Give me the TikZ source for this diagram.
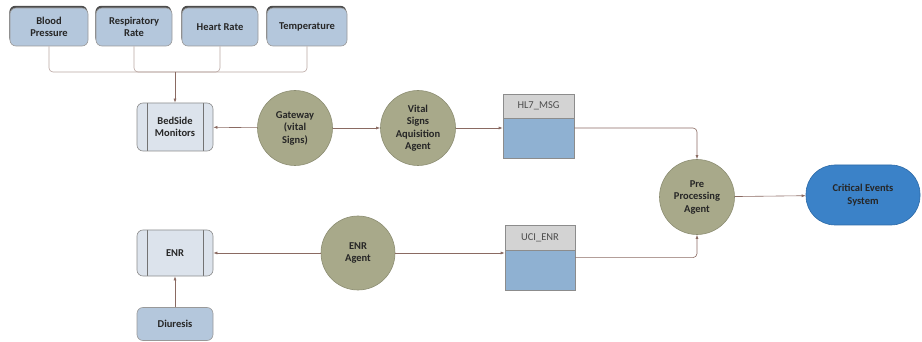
\documentclass[tikz,border=0pt]{standalone}
\usepackage{fontspec}
\setmainfont{Carlito}
\usetikzlibrary{arrows.meta,shadows}
\definecolor{inbox}{HTML}{B4C7DC}
\definecolor{devbox}{HTML}{DCE3EC}
\definecolor{agentfill}{HTML}{A8A98A}
\definecolor{agentline}{HTML}{8C8D72}
\definecolor{qhead}{HTML}{D3D3D3}
\definecolor{qbody}{HTML}{8FB1D2}
\definecolor{sysfill}{HTML}{3B82C8}
\definecolor{sysline}{HTML}{2D6AA6}
\definecolor{wire}{HTML}{8A6A62}
\tikzset{
  lbl/.style={font=\fontsize{10.5}{12.5}\selectfont\bfseries, align=center, text=black!85},
  plainsource/.style={lbl, draw=black!40, fill=inbox, rounded corners=6pt, line width=0.6pt,
    minimum height=38pt, inner sep=1pt},
  source/.style={plainsource,
    drop shadow={shadow xshift=-0.6pt, shadow yshift=2.2pt, fill=black!70, opacity=1}},
  device/.style={lbl, draw=black!45, fill=devbox, rounded corners=6pt, line width=0.6pt,
    minimum width=76pt, inner sep=1pt,
    path picture={
      \draw[black!55, line width=0.6pt]
        ([xshift=10pt]path picture bounding box.north west) -- ([xshift=10pt]path picture bounding box.south west)
        ([xshift=-10pt]path picture bounding box.north east) -- ([xshift=-10pt]path picture bounding box.south east);}},
  agent/.style={lbl, circle, draw=agentline, fill=agentfill, line width=0.6pt,
    minimum size=75pt, inner sep=0pt},
  qhead/.style={draw=black!45, fill=qhead, line width=0.6pt, minimum width=71pt,
    minimum height=24pt, inner sep=0pt, font=\fontsize{10.5}{12}\selectfont, text=black!70},
  qbody/.style={draw=black!45, fill=qbody, line width=0.6pt, minimum width=71pt,
    minimum height=40pt, inner sep=0pt},
  sys/.style={lbl, draw=sysline, fill=sysfill, rounded corners=29pt, line width=0.6pt,
    minimum width=114pt, minimum height=60pt, inner sep=1pt},
  link/.style={draw=wire, line width=0.6pt, -{Latex[length=4pt,width=3pt]}},
  bus/.style={draw=wire!60, line width=0.6pt, rounded corners=4pt},
}
\begin{document}
\begin{tikzpicture}[x=1pt,y=-1pt]
\useasboundingbox (0,0) rectangle (922,342);

% vital-sign sources
\node[source, minimum width=78pt] (bp)   at (49,27)  {Blood\\Pressure};
\node[source, minimum width=76pt] (rr)   at (134,27) {Respiratory\\Rate};
\node[source, minimum width=76pt] (hr)   at (220,27) {Heart Rate};
\node[source, minimum width=80pt] (temp) at (307,27) {Temperature};

% devices
\node[device, minimum height=48pt] (bed) at (175,127) {BedSide\\Monitors};
\node[device, minimum height=46pt] (enr) at (175,253) {ENR};
\node[plainsource, minimum width=76pt, minimum height=33pt] (diu) at (175,324) {Diuresis};

% agents
\node[agent] (gw)   at (295,128) {Gateway\\(vital\\Signs)};
\node[agent] (vsaa) at (418,128) {Vital\\Signs\\Aquisition\\Agent};
\node[agent] (pre)  at (697,197) {Pre\\Processing\\Agent};
\node[agent, minimum size=74pt] (enra) at (358,253) {ENR\\Agent};

% message queues
\node[qhead] (hl7h) at (538.5,106) {HL7\_MSG};
\node[qbody, anchor=north] (hl7b) at (hl7h.south) {};
\node[qhead, minimum width=70pt, minimum height=25pt] (ucih) at (540,237.5) {UCI\_ENR};
\node[qbody, minimum width=70pt, anchor=north] (ucib) at (ucih.south) {};

% output system
\node[sys] (ces) at (863,195) {Critical Events\\System};

% collector bus into the bedside monitors
\coordinate (merge) at (bed.north |- 0,72);
\draw[bus] (bp.south) |- (merge);
\draw[bus] (rr.south) |- (merge);
\draw[bus] (hr.south) |- (merge);
\draw[bus] (temp.south) |- (merge);
\draw[link] (merge) -- (bed.north);

% upper chain
\draw[link] (gw) -- (bed);
\draw[link] (gw) -- (vsaa);
\draw[link] (vsaa.east) -- (vsaa.east -| hl7b.west);
\draw[link, rounded corners=4pt] (vsaa.east -| hl7b.east) -| (pre.north);

% lower chain
\draw[link] (diu) -- (enr);
\draw[link] (enra) -- (enr);
\draw[link] (enra.east) -- (enra.east -| ucib.west);
\draw[link, rounded corners=4pt] ([yshift=13pt]ucib.east) -| (pre.south);

% output
\draw[link] (pre) -- (ces);
\end{tikzpicture}
\end{document}
